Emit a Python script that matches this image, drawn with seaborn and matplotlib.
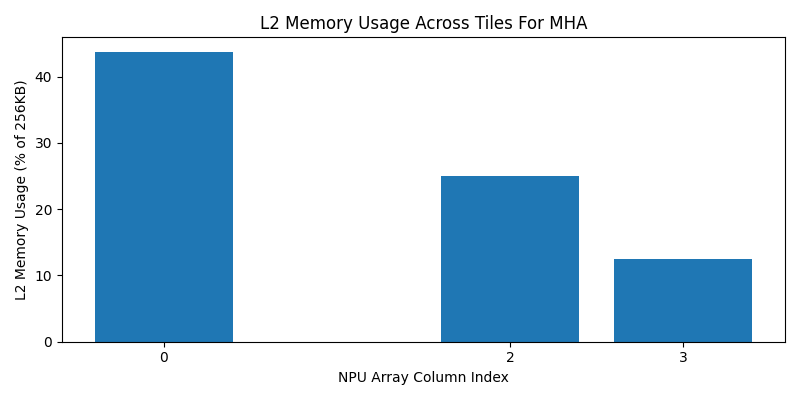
import matplotlib
matplotlib.use("Agg")
import matplotlib.pyplot as plt
import seaborn as sns
import numpy as np

# column indices that have L2 usage, and usage in % of 256KB
columns = [0, 2, 3]
usage = [43.75, 25.0, 12.5]

fig, ax = plt.subplots(figsize=(8, 4), dpi=100)
sns.barplot(x=columns, y=usage, native_scale=True, width=0.8,
            color='#1f77b4', saturation=1, ax=ax)
ax.set_xticks(columns)
ax.set_xticklabels([str(c) for c in columns])
ax.set_xlabel('NPU Array Column Index')
ax.set_ylabel('L2 Memory Usage (% of 256KB)')
ax.set_title('L2 Memory Usage Across Tiles For MHA')
plt.tight_layout()
plt.savefig('out.png', dpi=100)
